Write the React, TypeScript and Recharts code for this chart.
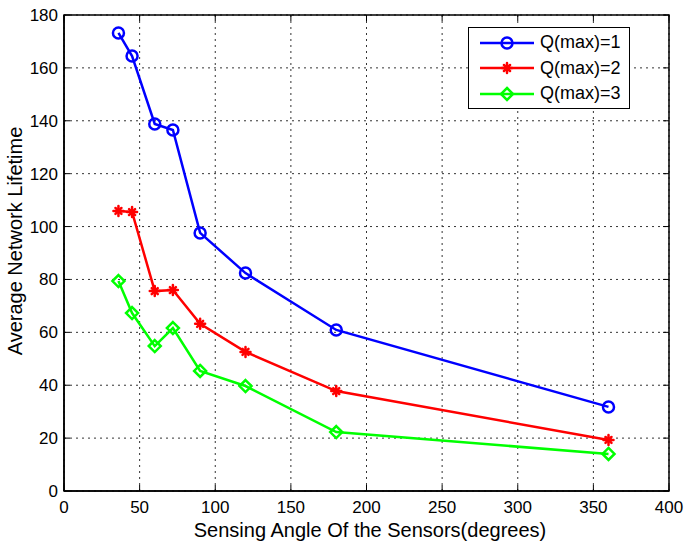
import { LineChart, Line, XAxis, YAxis, CartesianGrid, ReferenceArea } from "recharts";

const angles = [36, 45, 60, 72, 90, 120, 180, 360];
const q1 = [173.2, 164.5, 138.8, 136.5, 97.6, 82.4, 60.9, 31.8];
const q2 = [105.9, 105.5, 75.6, 76.0, 63.2, 52.6, 37.8, 19.3];
const q3 = [79.4, 67.3, 54.8, 61.6, 45.4, 39.7, 22.3, 14.0];
const xTicks = [0, 50, 100, 150, 200, 250, 300, 350, 400];
const yTicks = [0, 20, 40, 60, 80, 100, 120, 140, 160, 180];

const data = angles.map((a, i) => ({ angle: a, q1: q1[i], q2: q2[i], q3: q3[i] }));

const series = [
	{ key: "q1", name: "Q(max)=1", color: "#0000ff", marker: "circle" },
	{ key: "q2", name: "Q(max)=2", color: "#ff0000", marker: "star" },
	{ key: "q3", name: "Q(max)=3", color: "#00ff00", marker: "diamond" },
];

const font = "'Liberation Sans', Arial, sans-serif";

function Marker({ cx, cy, type, color }: any) {
	if (cx == null || cy == null) return null;
	if (type === "circle") {
		return <circle cx={cx} cy={cy} r={5.5} fill="none" stroke={color} strokeWidth={2.5} />;
	}
	if (type === "diamond") {
		const s = 6;
		return (
			<path
				d={`M${cx},${cy - s}L${cx + s},${cy}L${cx},${cy + s}L${cx - s},${cy}Z`}
				fill="none"
				stroke={color}
				strokeWidth={2.5}
			/>
		);
	}
	const s = 5;
	const d = 3;
	return (
		<g stroke={color} strokeWidth={2.5} strokeLinecap="round">
			<line x1={cx - s} y1={cy} x2={cx + s} y2={cy} />
			<line x1={cx} y1={cy - s} x2={cx} y2={cy + s} />
			<line x1={cx - d} y1={cy - d} x2={cx + d} y2={cy + d} />
			<line x1={cx - d} y1={cy + d} x2={cx + d} y2={cy - d} />
			<circle cx={cx} cy={cy} r={2.5} fill={color} stroke="none" />
		</g>
	);
}

function XTick({ x, y, payload }: any) {
	return (
		<g>
			<line x1={x} y1={y} x2={x} y2={y - 6} stroke="#000" strokeWidth={1} />
			<line x1={x} y1={15} x2={x} y2={21} stroke="#000" strokeWidth={1} />
			<text x={x} y={y + 22} textAnchor="middle" fontSize={17} fontFamily={font} fill="#000">
				{payload.value}
			</text>
		</g>
	);
}

function YTick({ x, y, payload }: any) {
	return (
		<g>
			<line x1={x} y1={y} x2={x + 6} y2={y} stroke="#000" strokeWidth={1} />
			<line x1={669} y1={y} x2={663} y2={y} stroke="#000" strokeWidth={1} />
			<text x={x - 6} y={y + 6} textAnchor="end" fontSize={17} fontFamily={font} fill="#000">
				{payload.value}
			</text>
		</g>
	);
}

function LegendBox() {
	return (
		<div
			style={{
				position: "absolute",
				left: 468,
				top: 27,
				width: 162,
				height: 82,
				border: "1.5px solid #000",
				background: "#fff",
				fontFamily: font,
				fontSize: 18,
				boxSizing: "border-box",
				paddingTop: 2,
			}}
		>
			{series.map((s) => (
				<div key={s.key} style={{ display: "flex", alignItems: "center", height: 25.5 }}>
					<svg width={62} height={20} style={{ marginLeft: 9 }}>
						<line x1={2} y1={10} x2={56} y2={10} stroke={s.color} strokeWidth={2.5} />
						<Marker cx={29} cy={10} type={s.marker} color={s.color} />
					</svg>
					<span>{s.name}</span>
				</div>
			))}
		</div>
	);
}

export default function App() {
	return (
		<div style={{ position: "absolute", left: 0, top: 0, width: 684, height: 546, background: "#fff" }}>
			<LineChart width={684} height={546} data={data} margin={{ top: 15, right: 15, left: 0, bottom: 5 }}>
				<CartesianGrid stroke="#333" strokeDasharray="2 4" strokeWidth={1} />
				<XAxis
					dataKey="angle"
					type="number"
					domain={[0, 400]}
					ticks={xTicks}
					height={50}
					tick={<XTick />}
					tickLine={false}
					tickSize={0}
					tickMargin={0}
					axisLine={{ stroke: "#000", strokeWidth: 1.5 }}
					label={() => (
						<text x={370} y={537} textAnchor="middle" fontSize={20} fontFamily={font} fill="#000">
							Sensing Angle Of the Sensors(degrees)
						</text>
					)}
				/>
				<YAxis
					type="number"
					domain={[0, 180]}
					ticks={yTicks}
					width={64}
					tick={<YTick />}
					tickLine={false}
					tickSize={0}
					tickMargin={0}
					axisLine={{ stroke: "#000", strokeWidth: 1.5 }}
					label={() => (
						<text
							x={22}
							y={241}
							transform="rotate(-90 22 241)"
							textAnchor="middle"
							fontSize={20}
							fontFamily={font}
							fill="#000"
						>
							Average Network Lifetime
						</text>
					)}
				/>
				<ReferenceArea x1={0} x2={400} y1={0} y2={180} fill="none" stroke="#000" strokeWidth={1.5} ifOverflow="visible" />
				{series.map((s) => (
					<Line
						key={s.key}
						dataKey={s.key}
						name={s.name}
						stroke={s.color}
						strokeWidth={2.5}
						isAnimationActive={false}
						dot={(p: any) => <Marker key={p.index} cx={p.cx} cy={p.cy} type={s.marker} color={s.color} />}
						activeDot={false}
					/>
				))}
			</LineChart>
			<LegendBox />
		</div>
	);
}
